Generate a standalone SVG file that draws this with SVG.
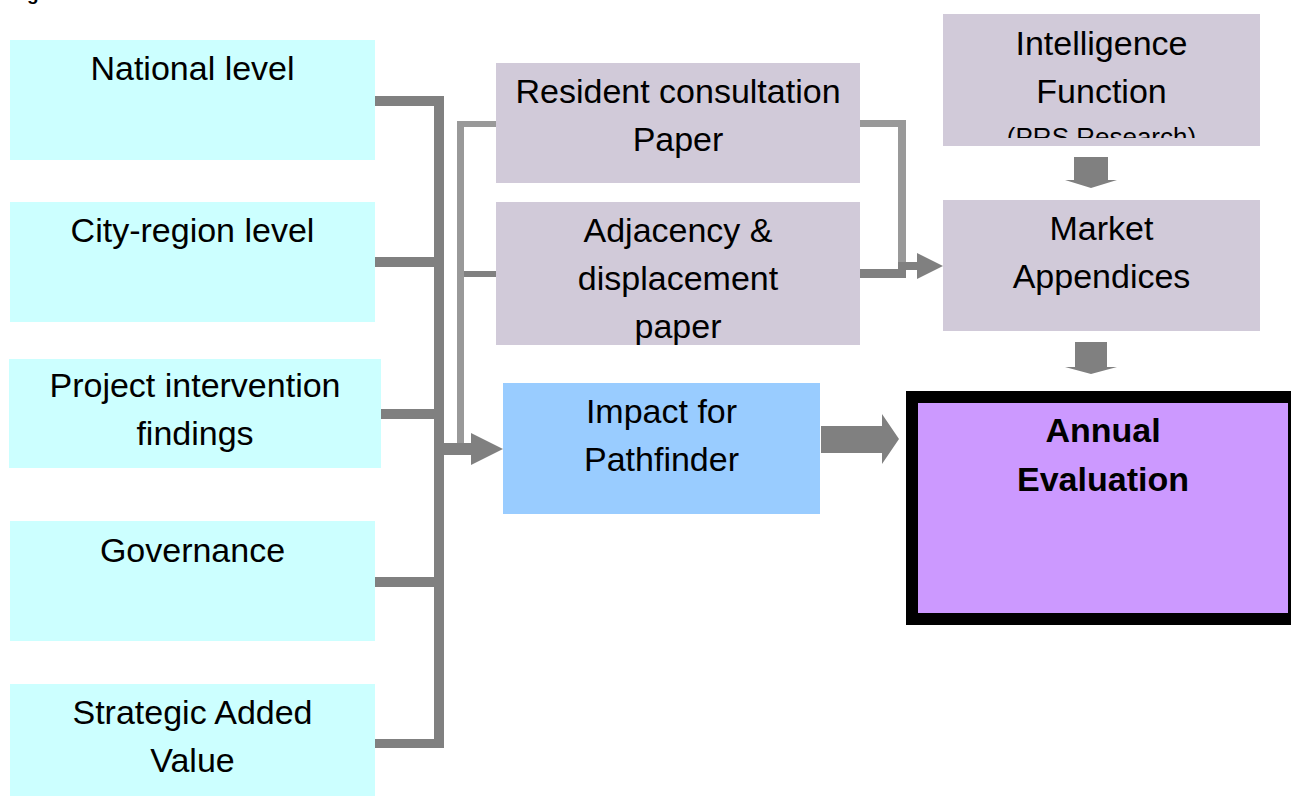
<svg xmlns="http://www.w3.org/2000/svg" width="1291" height="796" viewBox="0 0 1291 796">
  <style>
    text { font-family: "Liberation Sans", Arial, sans-serif; font-size: 34px; fill: #000; text-anchor: middle; }
    .title { font-size: 19px; font-weight: bold; text-anchor: start; }
    .small { font-size: 26px; }
    .bold { font-weight: bold; }
    .source { fill: #CCFFFF; }
    .paper { fill: #D1CAD9; }
    .impact { fill: #99CCFF; }
    .eval { fill: #CC99FF; }
    .wire { fill: #808080; }
    .wire-light { fill: #999999; }
  </style>
  <defs>
    <clipPath id="clip-adjacency"><rect x="496" y="202" width="364" height="143"/></clipPath>
    <clipPath id="clip-intel"><rect x="943" y="14" width="317" height="124"/></clipPath>
  </defs>

  <rect width="1291" height="796" fill="#FFFFFF"/>

  <!-- caption, sitting mostly above the top edge -->
  <text class="title" x="10" y="-0.5">Figure 4: Evaluation Framework Process</text>

  <!-- left column: evidence sources -->
  <g id="national-level">
    <rect class="source" x="10" y="40" width="365" height="120"/>
    <text x="192.5" y="80">National level</text>
  </g>
  <g id="city-region-level">
    <rect class="source" x="10" y="202" width="365" height="120"/>
    <text x="192.5" y="242">City-region level</text>
  </g>
  <g id="project-intervention">
    <rect class="source" x="9" y="359" width="372" height="109"/>
    <text x="195" y="397">Project intervention</text>
    <text x="195" y="445">findings</text>
  </g>
  <g id="governance">
    <rect class="source" x="10" y="521" width="365" height="120"/>
    <text x="192.5" y="562">Governance</text>
  </g>
  <g id="strategic-added-value">
    <rect class="source" x="10" y="684" width="365" height="112"/>
    <text x="192.5" y="724">Strategic Added</text>
    <text x="192.5" y="772">Value</text>
  </g>

  <!-- middle column: papers -->
  <g id="resident-consultation">
    <rect class="paper" x="496" y="63" width="364" height="120"/>
    <text x="678" y="103">Resident consultation</text>
    <text x="678" y="151">Paper</text>
  </g>
  <g id="adjacency-displacement">
    <rect class="paper" x="496" y="202" width="364" height="143"/>
    <g clip-path="url(#clip-adjacency)">
      <text x="678" y="242">Adjacency &amp;</text>
      <text x="678" y="290">displacement</text>
      <text x="678" y="338">paper</text>
    </g>
  </g>
  <g id="impact-pathfinder">
    <rect class="impact" x="503" y="383" width="317" height="131"/>
    <text x="661.5" y="423">Impact for</text>
    <text x="661.5" y="471">Pathfinder</text>
  </g>

  <!-- right column -->
  <g id="intelligence-function">
    <rect class="paper" x="943" y="14" width="317" height="132"/>
    <text x="1101.5" y="55">Intelligence</text>
    <text x="1101.5" y="103">Function</text>
    <g clip-path="url(#clip-intel)">
      <text class="small" x="1101.5" y="146">(PRS Research)</text>
    </g>
  </g>
  <g id="market-appendices">
    <rect class="paper" x="943" y="200" width="317" height="131"/>
    <text x="1101.5" y="240">Market</text>
    <text x="1101.5" y="288">Appendices</text>
  </g>
  <g id="annual-evaluation">
    <rect x="906" y="391" width="396" height="234" fill="#000000"/>
    <rect class="eval" x="918" y="403" width="370" height="210"/>
    <text class="bold" x="1103" y="442">Annual</text>
    <text class="bold" x="1103" y="491">Evaluation</text>
  </g>

  <!-- connectors -->
  <g id="connectors">
    <!-- thick bus gathering the five sources -->
    <rect class="wire" x="375" y="96" width="69" height="10"/>
    <rect class="wire" x="375" y="257" width="65" height="10"/>
    <rect class="wire" x="381" y="409" width="53" height="10"/>
    <rect class="wire" x="375" y="577" width="65" height="10"/>
    <rect class="wire" x="375" y="739" width="69" height="9"/>
    <rect class="wire" x="434" y="96" width="10" height="652"/>

    <!-- thin bus from the two papers -->
    <rect class="wire-light" x="457" y="121" width="39" height="6"/>
    <rect class="wire-light" x="457" y="121" width="7" height="326"/>
    <rect class="wire" x="464" y="271" width="32" height="6"/>

    <!-- arrow into Impact for Pathfinder -->
    <rect class="wire" x="434" y="443" width="38" height="12"/>
    <polygon class="wire" points="471,433 503,449 471,465"/>

    <!-- papers to Market Appendices -->
    <rect class="wire-light" x="860" y="120" width="46" height="7"/>
    <rect class="wire-light" x="898" y="120" width="8" height="152"/>
    <rect class="wire" x="860" y="269" width="46" height="9"/>
    <rect class="wire" x="898" y="262" width="20" height="8"/>
    <polygon class="wire" points="917,253 943,266 917,279"/>

    <!-- block arrow: Intelligence Function to Market Appendices -->
    <polygon class="wire" points="1074,157 1108,157 1108,180 1117,180 1091,188 1065,180 1074,180"/>

    <!-- block arrow: Market Appendices to Annual Evaluation -->
    <polygon class="wire" points="1075,342 1107,342 1107,367 1117,367 1091,374 1065,367 1075,367"/>

    <!-- block arrow: Impact for Pathfinder to Annual Evaluation -->
    <polygon class="wire" points="821,426 882,426 882,414 899,439 882,464 882,453 821,453"/>
  </g>
</svg>
